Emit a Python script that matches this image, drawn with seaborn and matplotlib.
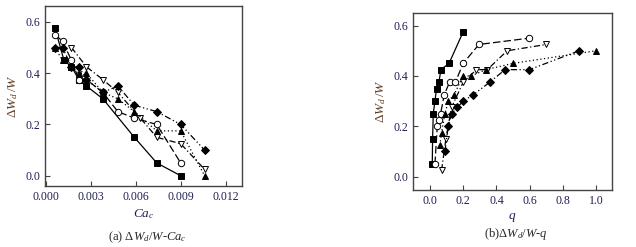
import matplotlib
matplotlib.use('Agg')
import matplotlib.pyplot as plt
import seaborn as sns

# (a) dW_d/W against Ca_c
ca_sq = [0.0006, 0.0012, 0.0017, 0.0022, 0.0027, 0.0038, 0.0059, 0.0074, 0.0090]
wa_sq = [0.575, 0.45, 0.425, 0.375, 0.35, 0.30, 0.15, 0.05, 0.0]
ca_ci = [0.0006, 0.0011, 0.0017, 0.0022, 0.0027, 0.0038, 0.0048, 0.0059, 0.0074, 0.0090]
wa_ci = [0.55, 0.525, 0.45, 0.375, 0.375, 0.325, 0.25, 0.225, 0.20, 0.05]
ca_td = [0.0017, 0.0027, 0.0038, 0.0048, 0.0063, 0.0074, 0.0090, 0.0106]
wa_td = [0.50, 0.425, 0.375, 0.325, 0.225, 0.15, 0.125, 0.025]
ca_tu = [0.0006, 0.0011, 0.0017, 0.0022, 0.0027, 0.0038, 0.0048, 0.0059, 0.0074, 0.0090, 0.0106]
wa_tu = [0.50, 0.45, 0.425, 0.40, 0.40, 0.325, 0.30, 0.25, 0.175, 0.175, 0.0]
ca_di = [0.0006, 0.0011, 0.0017, 0.0022, 0.0027, 0.0038, 0.0048, 0.0059, 0.0074, 0.0090, 0.0106]
wa_di = [0.50, 0.50, 0.425, 0.425, 0.375, 0.325, 0.35, 0.275, 0.25, 0.20, 0.10]

# (b) dW_d/W against q
q_sq = [0.014, 0.016, 0.02, 0.03, 0.04, 0.054, 0.066, 0.115, 0.2]
wb_sq = [0.05, 0.15, 0.25, 0.30, 0.35, 0.375, 0.425, 0.45, 0.575]
q_ci = [0.03, 0.044, 0.054, 0.064, 0.086, 0.118, 0.153, 0.2, 0.295, 0.597]
wb_ci = [0.05, 0.20, 0.225, 0.25, 0.325, 0.375, 0.375, 0.45, 0.525, 0.55]
q_td = [0.07, 0.096, 0.13, 0.2, 0.28, 0.345, 0.465, 0.70]
wb_td = [0.025, 0.15, 0.275, 0.375, 0.425, 0.425, 0.50, 0.525]
q_tu = [0.06, 0.07, 0.09, 0.111, 0.145, 0.2, 0.247, 0.337, 0.50, 1.0]
wb_tu = [0.125, 0.175, 0.25, 0.30, 0.325, 0.40, 0.40, 0.425, 0.45, 0.50]
q_di = [0.09, 0.11, 0.13, 0.165, 0.2, 0.26, 0.36, 0.452, 0.598, 0.898]
wb_di = [0.10, 0.20, 0.25, 0.275, 0.30, 0.325, 0.375, 0.425, 0.425, 0.50]

sns.set_style('ticks')
plt.rcParams['font.family'] = ['Liberation Serif', 'DejaVu Serif']
plt.rcParams['mathtext.fontset'] = 'custom'
plt.rcParams['mathtext.rm'] = 'Liberation Serif'
plt.rcParams['mathtext.it'] = 'Liberation Serif:italic'

# marker, face colour, dash pattern
styles = [
    ('s', 'black', None),
    ('o', 'white', (6, 2.5)),
    ('v', 'white', (5, 2, 1, 2)),
    ('^', 'black', (1, 2)),
    ('D', 'black', (5, 2, 1, 2, 1, 2)),
]

fig = plt.figure(figsize=(6.36, 2.47), dpi=100)
ax1 = fig.add_axes([45 / 636, 1 - 186 / 247, 197 / 636, 180 / 247])
ax2 = fig.add_axes([413 / 636, 1 - 190 / 247, 199 / 636, 177 / 247])

left = [(ca_sq, wa_sq), (ca_ci, wa_ci), (ca_td, wa_td), (ca_tu, wa_tu), (ca_di, wa_di)]
right = [(q_sq, wb_sq), (q_ci, wb_ci), (q_td, wb_td), (q_tu, wb_tu), (q_di, wb_di)]

for ax, series in [(ax1, left), (ax2, right)]:
    for (xs, ys), (mk, fc, dash) in zip(series, styles):
        sns.lineplot(x=xs, y=ys, ax=ax, sort=False, color='black', lw=0.9,
                     marker=mk, markersize=4.6 if mk != 'D' else 4.2,
                     markerfacecolor=fc, markeredgecolor='black', markeredgewidth=0.7)
        if dash is not None:
            ax.get_lines()[-1].set_dashes(dash)

tick_col = '#1f1f55'
for ax in (ax1, ax2):
    for sp in ax.spines.values():
        sp.set_color('#444444')
        sp.set_linewidth(1.0)
    ax.tick_params(direction='in', length=3.5, width=0.8, colors='#444444',
                   labelcolor=tick_col, labelsize=8.5, top=False, right=False)
    ax.set_yticks([0.0, 0.2, 0.4, 0.6])
    ax.set_yticklabels(['0.0', '0.2', '0.4', '0.6'])

ax1.set_xlim(-0.00007, 0.0131)
ax1.set_ylim(-0.04, 0.662)
ax1.set_xticks([0.0, 0.003, 0.006, 0.009, 0.012])
ax1.set_xticklabels(['0.000', '0.003', '0.006', '0.009', '0.012'])

ax2.set_xlim(-0.102, 1.096)
ax2.set_ylim(-0.053, 0.65)
ax2.set_xticks([0.0, 0.2, 0.4, 0.6, 0.8, 1.0])
ax2.set_xticklabels(['0.0', '0.2', '0.4', '0.6', '0.8', '1.0'])

ylab = r'$\Delta W_d\,/W$'
ax1.set_ylabel(ylab, fontsize=9.5, color='#5e3a22', labelpad=4)
ax2.set_ylabel(ylab, fontsize=9.5, color='#5e3a22', labelpad=4)
ax1.set_xlabel(r'$Ca_c$', fontsize=9.5, color=tick_col, labelpad=3)
ax2.set_xlabel(r'$q$', fontsize=9.5, color=tick_col, labelpad=3)

fig.text(147 / 636, 1 - 237 / 247, r'(a) $\Delta W_d/W$-$Ca_c$', ha='center', va='center', fontsize=9)
fig.text(516 / 636, 1 - 234 / 247, r'(b)$\Delta W_d/W$-$q$', ha='center', va='center', fontsize=9)

fig.savefig('out.png', dpi=100)
